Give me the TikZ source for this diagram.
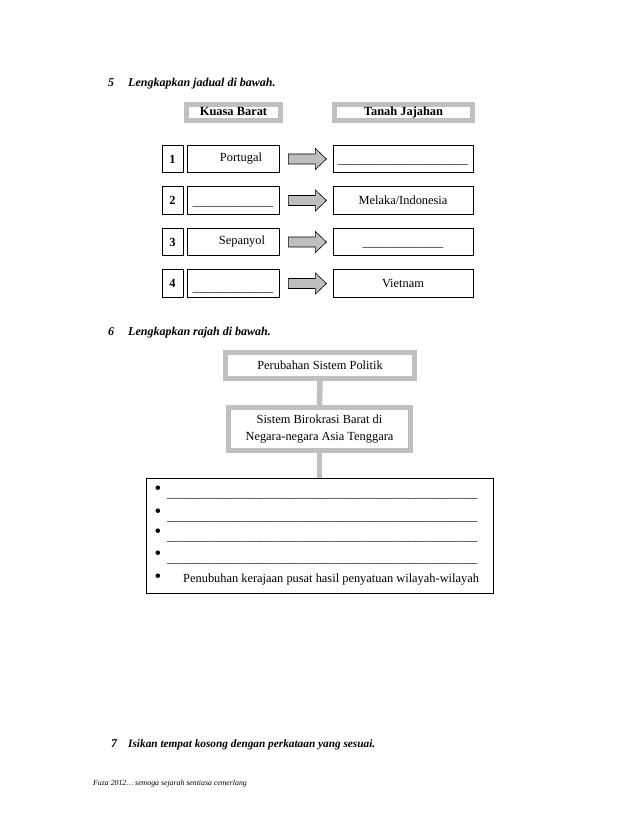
\documentclass[tikz,border=0pt]{standalone}
\usepackage{fontspec}
\setmainfont{Liberation Serif}
\usetikzlibrary{calc}
\definecolor{framegray}{RGB}{192,192,192}
\definecolor{arrgray}{RGB}{190,190,190}
\newcommand\ublank[1]{\foreach \k in {1,...,#1}{\_}}
\newcommand\lowtext[2]{\smash{\raisebox{#1}{#2}}}
\begin{document}
\begin{tikzpicture}[x=1pt,y=-1pt,
  base/.style={font=\fontsize{12.4}{17}\selectfont, inner sep=0pt},
  head/.style={font=\fontsize{12}{14}\selectfont\bfseries\itshape, inner sep=0pt, anchor=base west},
  grayframe/.style={base, draw=framegray, line width=5pt, fill=white, align=center},
  titleframe/.style={grayframe, minimum height=16pt, text height=9.3pt, text depth=2.5pt, font=\fontsize{12.4}{14}\selectfont\bfseries},
  blackbox/.style={base, draw=black, line width=0.8pt},
  numbox/.style={blackbox, minimum width=21pt, minimum height=27.5pt, font=\fontsize{12.4}{14}\selectfont\bfseries},
  leftbox/.style={blackbox, minimum width=92pt, minimum height=27.5pt},
  rightbox/.style={blackbox, minimum width=140pt, minimum height=27.5pt},
  blockarr/.style={draw=black, line width=0.6pt, fill=arrgray, line join=miter},
  grayconn/.style={draw=framegray, line width=5.5pt},
  bul/.style={base, font=\fontsize{19}{19}\selectfont},
  ltext/.style={base, anchor=base west}]
\useasboundingbox (0,0) rectangle (638,826);

% ---- Question 5
\node[head] (q5n) at (108,87) {5};
\node[head] (q5t) at (128,87) {Lengkapkan jadual di bawah.};

\node[titleframe, minimum width=94pt] (kb) at (233.5,112.5) {Kuasa Barat};
\node[titleframe, minimum width=138pt] (tj) at (403.5,112.5) {Tanah Jajahan};

% rows
\node[numbox] (n1) at (172.5,159) {1};
\node[numbox] (n2) at (172.5,200.5) {2};
\node[numbox] (n3) at (172.5,242) {3};
\node[numbox] (n4) at (172.5,283.5) {4};

\node[leftbox] (l1) at (233,159) {\hspace*{16pt}Portugal};
\node[leftbox] (l2) at (233,200.5) {\lowtext{-5.3pt}{\ublank{13}}};
\node[leftbox] (l3) at (233,242) {\hspace*{18pt}Sepanyol};
\node[leftbox] (l4) at (233,283.5) {\lowtext{-7.5pt}{\ublank{13}}};

\node[rightbox] (r1) at (403,159) {\lowtext{-4.8pt}{\ublank{21}}};
\node[rightbox] (r2) at (403,200.5) {Melaka/Indonesia};
\node[rightbox] (r3) at (403,242) {\lowtext{-4.8pt}{\ublank{13}}};
\node[rightbox] (r4) at (403,283.5) {Vietnam};

\foreach \i in {1,...,4}{
  \draw[blockarr] ($(l\i.east)+(9,-5)$) -- ++(27,0) -- ++(0,-5.5) -- ++(11,10.5)
     -- ++(-11,10.5) -- ++(0,-5.5) -- ++(-27,0) -- cycle;
}

% ---- Question 6
\node[head] (q6n) at (108,335) {6};
\node[head] (q6t) at (128,335) {Lengkapkan rajah di bawah.};

\node[grayframe, minimum width=189pt, minimum height=26pt] (ps) at (320,365.5) {Perubahan Sistem Politik};
\node[grayframe, minimum width=182pt, minimum height=43pt] (sb) at (319.5,429) {Sistem Birokrasi Barat di\\Negara-negara Asia Tenggara};
\node[blackbox, minimum width=347pt, minimum height=115pt] (bx) at (319.5,535.5) {};

\draw[grayconn] (ps.south) -- (sb.north);
\draw[grayconn] (sb.south) -- (bx.north);
\node[grayframe, minimum width=189pt, minimum height=26pt] at (320,365.5) {Perubahan Sistem Politik};
\node[grayframe, minimum width=182pt, minimum height=43pt] at (319.5,429) {Sistem Birokrasi Barat di\\Negara-negara Asia Tenggara};

\node[bul] (b1) at (158,490.5) {\textbullet};
\node[bul] (b2) at (158,513) {\textbullet};
\node[bul] (b3) at (158,533) {\textbullet};
\node[bul] (b4) at (158,555) {\textbullet};
\node[bul] (b5) at (158,578) {\textbullet};

\node[ltext] (u1) at (167,497.8) {\ublank{50}};
\node[ltext] (u2) at (167,520.8) {\ublank{50}};
\node[ltext] (u3) at (167,540.8) {\ublank{50}};
\node[ltext] (u4) at (167,562.8) {\ublank{50}};
\node[ltext] (t5) at (183,582) {Penubuhan kerajaan pusat hasil penyatuan wilayah-wilayah};

% ---- Question 7
\node[head] (q7n) at (111,747) {7};
\node[head, font=\fontsize{11.3}{14}\selectfont\bfseries\itshape] (q7t) at (128,747) {Isikan tempat kosong dengan perkataan yang sesuai.};

% footer
\node[base, anchor=base west, font=\fontsize{7.8}{9}\selectfont\itshape] (ft) at (93,785) {Fuza 2012\dots\ semoga sejarah sentiasa cemerlang};
\end{tikzpicture}
\end{document}
